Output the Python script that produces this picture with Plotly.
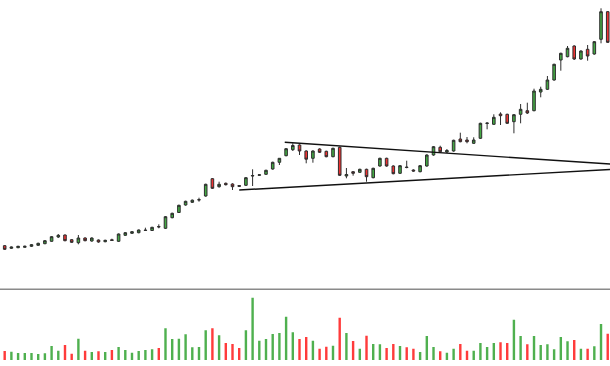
import plotly.graph_objects as go

# ---- data (price units, index-based sessions) ----
opens = [54.3, 51.7, 52.3, 52.7, 53.7, 54.7, 56.3, 58.7, 63.0, 65.0,
         60.3, 57.3, 62.0, 59.0, 60.0, 58.3, 60.3, 58.7, 64.7, 66.7,
         67.3, 69.5, 69.5, 73.5, 71.7, 82.3, 87.5, 95.0, 97.7, 100.0,
         104.0, 121.3, 113.3, 116.7, 116.0, 114.5, 114.7, 124.0, 124.7, 125.7,
         131.0, 137.7, 144.3, 150.3, 155.0, 149.0, 141.7, 151.0, 148.7, 143.3,
         152.7, 124.0, 128.3, 127.7, 130.7, 122.3, 134.0, 141.7, 134.0, 126.7,
         133.0, 130.0, 128.3, 134.0, 145.0, 152.7, 148.0, 149.0, 161.0, 160.0,
         156.7, 161.7, 176.5, 175.7, 186.0, 185.7, 178.3, 185.7, 189.3, 189.3,
         208.0, 210.7, 220.0, 240.0, 243.3, 254.0, 241.0, 250.7, 246.0, 260.7,
         288.3]
highs = [55.0, 53.5, 54.2, 54.3, 56.0, 57.3, 60.0, 64.0, 66.0, 65.5,
         61.0, 65.0, 62.7, 62.7, 60.5, 60.3, 61.3, 66.5, 68.0, 69.0,
         70.5, 72.3, 73.2, 75.7, 84.0, 87.3, 95.3, 99.3, 100.5, 102.3,
         116.3, 122.0, 118.3, 117.5, 116.7, 115.0, 123.0, 130.7, 126.0, 130.3,
         138.3, 142.0, 152.0, 156.7, 155.7, 149.7, 149.7, 151.7, 149.3, 152.3,
         153.3, 132.0, 129.0, 131.3, 131.3, 132.3, 142.3, 142.3, 134.7, 135.0,
         139.3, 130.7, 135.0, 145.7, 154.0, 154.3, 151.0, 160.3, 167.3, 163.0,
         162.7, 177.3, 177.7, 185.7, 187.7, 186.3, 186.0, 196.0, 197.3, 211.3,
         213.3, 224.0, 236.3, 247.3, 254.0, 254.7, 249.7, 255.0, 259.0, 291.7,
         289.0]
lows = [50.0, 51.0, 51.8, 52.2, 53.0, 54.2, 55.8, 58.2, 62.0, 58.7,
        57.0, 55.7, 58.7, 58.3, 57.3, 57.7, 59.0, 58.0, 64.0, 66.0,
        66.7, 69.0, 69.0, 71.7, 71.0, 81.7, 87.0, 94.3, 97.0, 98.3,
        103.3, 111.0, 112.3, 114.5, 110.0, 113.0, 114.0, 114.0, 124.0, 125.0,
        130.3, 135.0, 143.7, 149.0, 145.0, 136.7, 137.3, 147.0, 142.7, 142.7,
        124.0, 121.7, 124.3, 127.0, 118.3, 121.7, 133.3, 133.3, 125.7, 126.0,
        131.7, 128.3, 127.7, 133.3, 144.3, 147.7, 147.0, 148.3, 157.7, 156.7,
        156.0, 161.0, 170.7, 175.0, 175.0, 176.0, 166.7, 176.7, 186.0, 188.7,
        202.7, 210.0, 219.3, 229.3, 242.7, 240.0, 240.3, 239.3, 245.3, 256.7,
        257.0]
closes = [50.7, 53.0, 53.7, 53.7, 55.3, 56.7, 59.3, 63.3, 64.7, 59.3,
          57.7, 62.0, 59.3, 62.0, 58.0, 59.7, 59.5, 66.0, 67.3, 68.3,
          70.0, 69.8, 72.7, 73.1, 83.3, 86.7, 94.7, 98.7, 99.8, 100.3,
          115.7, 111.7, 115.7, 115.3, 113.3, 113.7, 122.3, 124.4, 125.2, 129.7,
          137.7, 141.7, 151.3, 154.5, 149.0, 140.8, 149.0, 147.7, 143.3, 151.7,
          124.7, 125.5, 126.7, 130.7, 123.3, 131.7, 141.7, 134.0, 126.3, 134.3,
          132.5, 129.0, 134.3, 145.0, 153.3, 148.3, 149.5, 159.7, 158.3, 158.3,
          160.0, 176.7, 176.9, 182.7, 184.3, 176.7, 185.3, 190.7, 187.0, 209.0,
          210.7, 220.0, 235.7, 246.7, 251.7, 241.0, 249.0, 244.0, 258.3, 288.3,
          257.7]
volumes = [9.0, 8.3, 7.0, 7.0, 7.0, 6.0, 6.7, 14.0, 9.3, 15.0,
           6.3, 21.3, 9.3, 8.0, 8.7, 8.0, 10.0, 13.0, 10.0, 7.3,
           9.0, 10.0, 10.7, 12.0, 31.7, 21.0, 21.3, 25.7, 12.7, 13.0,
           29.7, 31.7, 24.7, 17.0, 16.0, 12.0, 29.7, 62.3, 19.3, 21.0,
           26.0, 27.0, 43.3, 27.7, 21.0, 23.0, 19.3, 11.3, 13.3, 14.3,
           42.3, 27.0, 19.0, 11.3, 24.3, 16.0, 15.7, 12.0, 16.0, 14.0,
           12.7, 11.3, 8.0, 24.0, 13.0, 8.7, 7.3, 11.3, 16.0, 9.3,
           9.3, 17.0, 13.0, 17.0, 17.7, 17.0, 40.3, 24.0, 15.7, 24.0,
           15.0, 15.7, 10.7, 23.0, 18.7, 20.0, 11.3, 11.3, 13.7, 36.0,
           26.3]
sessions = list(range(len(opens)))

# triangle trend lines (session index, price)
upper_line_x = [41.8, 91.0]
upper_line_y = [157.7, 135.7]
lower_line_x = [35.0, 91.0]
lower_line_y = [110.0, 130.8]

GREEN = "#43a843"
RED = "#ee3333"
VGREEN = "#4fb04f"
VRED = "#ff3b3b"

vol_colors = [VGREEN if c >= o else VRED for o, c in zip(opens, closes)]

H = 366
price_bottom = 1 - 289.3 / H
vol_bottom = 6 / H

fig = go.Figure()
fig.add_trace(go.Candlestick(
    x=sessions, open=opens, high=highs, low=lows, close=closes,
    increasing=dict(line=dict(color="#2e2e2e", width=1), fillcolor=GREEN),
    decreasing=dict(line=dict(color="#2e2e2e", width=1), fillcolor=RED),
    whiskerwidth=0, showlegend=False, hoverinfo="x+y",
    xaxis="x", yaxis="y",
))
fig.add_trace(go.Scatter(x=upper_line_x, y=upper_line_y, mode="lines",
                         line=dict(color="#111111", width=1.4),
                         showlegend=False, xaxis="x", yaxis="y"))
fig.add_trace(go.Scatter(x=lower_line_x, y=lower_line_y, mode="lines",
                         line=dict(color="#111111", width=1.4),
                         showlegend=False, xaxis="x", yaxis="y"))
fig.add_trace(go.Bar(x=sessions, y=volumes, marker=dict(color=vol_colors, line=dict(width=0)),
                     width=0.36, showlegend=False, xaxis="x", yaxis="y2"))

axis_off = dict(showgrid=False, zeroline=False, showticklabels=False,
                showline=False, ticks="")
fig.update_layout(
    width=610, height=H,
    margin=dict(l=0, r=0, t=0, b=0),
    paper_bgcolor="white", plot_bgcolor="white",
    boxgap=0.45,
    xaxis=dict(range=[-0.70, 90.34], rangeslider=dict(visible=False), **axis_off),
    yaxis=dict(domain=[price_bottom, 1], range=[10.7, 300], **axis_off),
    yaxis2=dict(domain=[vol_bottom, price_bottom], range=[0, 70.7], **axis_off),
    shapes=[dict(type="line", xref="paper", yref="paper", x0=0, x1=1,
                 y0=price_bottom, y1=price_bottom,
                 line=dict(color="#8a8a8a", width=1.5))],
)

fig.write_html("out.html", config={"displayModeBar": False},
               post_script="document.body.style.margin='0';document.body.style.overflow='hidden';")
